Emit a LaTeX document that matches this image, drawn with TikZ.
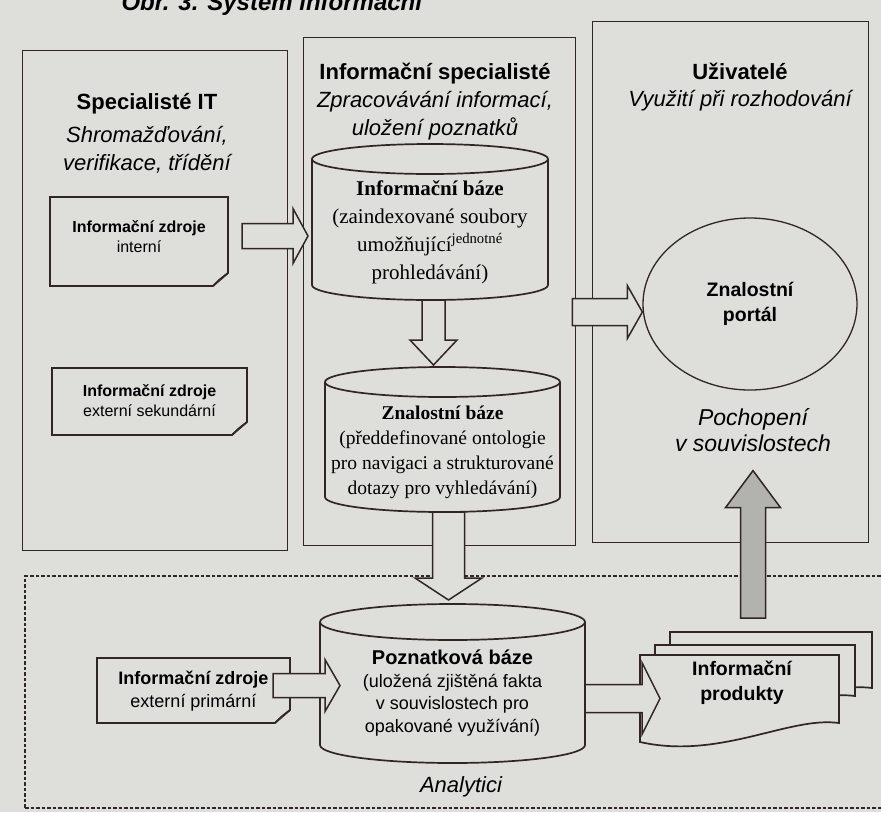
\documentclass[tikz,border=0pt]{standalone}
\usepackage{fontspec}
\setmainfont{Liberation Serif}
\setsansfont{Liberation Sans}
\usetikzlibrary{shapes.geometric, calc, positioning}
\definecolor{paper}{RGB}{222,222,219}
\definecolor{ink}{RGB}{48,38,38}
\definecolor{stipple}{RGB}{178,178,175}

\tikzset{
  colbox/.style={draw=ink, line width=0.9pt, inner sep=0pt},
  body/.style={inner sep=0pt, outer sep=0pt},
  shapeline/.style={draw=ink, line width=1.7pt, fill=paper, line join=miter},
  blockarrow/.style={draw=ink, line width=1.5pt, fill=paper, line join=miter},
  dashframe/.style={draw=ink, line width=1.6pt, dash pattern=on 3.5pt off 2pt, inner sep=0pt},
  headbold/.style={font=\sffamily\bfseries\fontsize{22}{28}\selectfont},
  headital/.style={font=\sffamily\itshape\fontsize{22}{28}\selectfont, align=center},
  notetext/.style={font=\sffamily\fontsize{16}{20}\selectfont, align=center},
  serifbig/.style={font=\fontsize{21}{28}\selectfont, align=center},
  serifmid/.style={font=\fontsize{19.5}{25}\selectfont, align=center},
  sanstext/.style={font=\sffamily\fontsize{18}{22.5}\selectfont, align=center},
  sansbold/.style={font=\sffamily\bfseries\fontsize{19.5}{25}\selectfont, align=center},
  sansital/.style={font=\sffamily\itshape\fontsize{23}{26}\selectfont, align=center}
}

% outlines drawn round empty body nodes
\newcommand{\cylinderoutline}[3]{%
  \draw[shapeline] (#1.north west) -- (#1.south west)
    arc[start angle=180, end angle=360, x radius=#2pt, y radius=#3pt]
    -- (#1.north east)
    arc[start angle=0, end angle=180, x radius=#2pt, y radius=#3pt] -- cycle;
  \draw[shapeline, fill=none] (#1.north west)
    arc[start angle=180, end angle=360, x radius=#2pt, y radius=#3pt];}
\newcommand{\noteoutline}[1]{%
  \draw[shapeline] (#1.north west) -- (#1.north east) -- ([yshift=13pt]#1.south east)
    -- ([xshift=-15pt]#1.south east) -- (#1.south west) -- cycle;
  \draw[shapeline, fill=ink!30, line join=round] ([yshift=13pt]#1.south east)
    -- ([shift={(-9pt,6pt)}]#1.south east) -- ([xshift=-15pt]#1.south east);}
\newcommand{\docoutline}[1]{%
  \draw[shapeline] (#1.north west) -- (#1.north east) -- ([yshift=19pt]#1.south east)
    .. controls ([shift={(-50pt,26pt)}]#1.south east) and ([shift={(80pt,-18pt)}]#1.south west)
    .. (#1.south west) -- cycle;}
% block arrows: from, tip, shaft half, head half, head length
\newcommand{\rightblock}[6][]{%
  \draw[blockarrow,#1] let \p1=(#2), \p2=(#3) in
    (\x1,\y2+#4) -- (\x2-#6,\y2+#4) -- (\x2-#6,\y2+#5) -- (\x2,\y2)
    -- (\x2-#6,\y2-#5) -- (\x2-#6,\y2-#4) -- (\x1,\y2-#4) -- cycle;}
\newcommand{\downblock}[6][]{%
  \draw[blockarrow,#1] let \p1=(#2), \p2=(#3) in
    (\x2-#4,\y1) -- (\x2-#4,\y2+#6) -- (\x2-#5,\y2+#6) -- (\x2,\y2)
    -- (\x2+#5,\y2+#6) -- (\x2+#4,\y2+#6) -- (\x2+#4,\y1) -- cycle;}
\newcommand{\upblock}[6][]{%
  \draw[blockarrow,#1] let \p1=(#2), \p2=(#3) in
    (\x2-#4,\y1) -- (\x2-#4,\y2-#6) -- (\x2-#5,\y2-#6) -- (\x2,\y2)
    -- (\x2+#5,\y2-#6) -- (\x2+#4,\y2-#6) -- (\x2+#4,\y1) -- cycle;}

\begin{document}
\begin{tikzpicture}[x=1pt, y=-1pt]
  \fill[paper] (0,0) rectangle (881,812);
  \useasboundingbox (0,0) rectangle (881,812);

  \node[font=\sffamily\bfseries\itshape\fontsize{24}{26}\selectfont, anchor=base west]
    (figtitle) at (118,10) {Obr. 3. Systém informační};

  % column boxes
  \node[colbox, minimum width=265, minimum height=500] (leftcol) at (154.5,300) {};
  \node[colbox, minimum width=272, minimum height=508] (midcol) at (439,291) {};
  \node[colbox, minimum width=276, minimum height=521] (rightcol) at (730,281.5) {};
  \node[dashframe, minimum width=870, minimum height=232] (anaframe) at (460,692) {};

  % column headers
  \node[headbold] (ithead) at (147,104) {Specialisté IT};
  \node[headital] (ittask) at (147,149.5) {Shromažďování,\\verifikace, třídění};
  \node[headbold] (infohead) at (435,74) {Informační specialisté};
  \node[headital] (infotask) at (435,116) {Zpracovávání informací,\\uložení poznatků};
  \node[headbold] (userhead) at (740,71) {Uživatelé};
  \node[headital] (usertask) at (740,101) {Využití při rozhodování};

  % Informacni baze
  \node[body, minimum width=236, minimum height=126] (infobaze) at (430,222) {};
  \cylinderoutline{infobaze}{118}{15}
  \node[serifbig] (infobazetext) at (430,232) {\textbf{Informační báze}\\(zaindexované soubory\\
    umožňující\textsuperscript{jednotné}\\prohledávání)};

  % Znalostni baze
  \node[body, minimum width=235, minimum height=115] (znalbaze) at (442.5,439.5) {};
  \cylinderoutline{znalbaze}{117.5}{15}
  \node[serifmid] (znalbazetext) at (442.5,452.5) {\textbf{Znalostní báze}\\(předdefinované ontologie\\
    pro navigaci a strukturované\\dotazy pro vyhledávání)};

  % Poznatkova baze
  \node[body, minimum width=265, minimum height=123] (poznbaze) at (452.5,683.5) {};
  \cylinderoutline{poznbaze}{132.5}{18}
  \node[sanstext] (poznbazetext) at (452.5,693) {{\bfseries\fontsize{20}{25}\selectfont Poznatková báze}\\
    (uložená zjištěná fakta\\v souvislostech pro\\opakované využívání)};

  % information sources
  \node[body, minimum width=178, minimum height=89] (notein) at (139,241.5) {};
  \noteoutline{notein}
  \node[notetext] (noteintext) at (139,237) {\textbf{Informační zdroje}\\interní};
  \node[body, minimum width=195, minimum height=67] (notesec) at (149.5,401.5) {};
  \noteoutline{notesec}
  \node[notetext] (notesectext) at (149.5,401) {\textbf{Informační zdroje}\\externí sekundární};
  \node[body, minimum width=193, minimum height=65] (noteprim) at (193.5,690.5) {};
  \noteoutline{noteprim}
  \node[notetext, font=\sffamily\fontsize{18}{23}\selectfont] (noteprimtext) at (193.5,691.5)
    {\textbf{Informační zdroje}\\externí primární};

  % information products
  \node[body, minimum width=202, minimum height=75] (prodback1) at (771,669.5) {};
  \docoutline{prodback1}
  \node[body, minimum width=200, minimum height=70] (prodback2) at (755,680) {};
  \docoutline{prodback2}
  \node[body, minimum width=199, minimum height=87] (prodfront) at (739.5,698.5) {};
  \docoutline{prodfront}
  \node[sansbold] (prodtext) at (742,682.5) {Informační\\produkty};

  % portal
  \node[draw=ink, line width=1.3pt, ellipse, minimum width=214, minimum height=172,
    sansbold] (portal) at (750,304) {Znalostní\\portál};
  \node[sansital] (pochtext) at (753,430.5) {Pochopení\\v souvislostech};
  \node[sansital, font=\sffamily\itshape\fontsize{22}{26}\selectfont] (analabel) at (461,787) {Analytici};

  % block arrows
  \rightblock{[xshift=14pt]notein.east}{[shift={(-4pt,-14pt)}]infobaze.west}{12.5pt}{27.5pt}{15pt}
  \downblock{[yshift=-15pt]infobaze.south}{[shift={(-9pt,17pt)}]znalbaze.north}{11.5pt}{23.5pt}{25pt}
  \downblock{[yshift=-15pt]znalbaze.south}{[shift={(-4pt,22pt)}]poznbaze.north}{16pt}{33.5pt}{22pt}
  \rightblock{[xshift=-3pt]midcol.east}{[yshift=-8pt]portal.west}{13.5pt}{26.5pt}{15pt}
  \rightblock{[xshift=-17pt]noteprim.east}{[shift={(20pt,-2pt)}]poznbaze.west}{12pt}{26pt}{15pt}
  \rightblock{[yshift=-15pt]poznbaze.east}{[xshift=20pt]prodfront.west}{14pt}{36pt}{18pt}
  \upblock[fill=stipple]{[shift={(-16pt,14pt)}]prodback1.north}{[yshift=-15pt]pochtext.south}{12.5pt}{27.5pt}{37pt}
\end{tikzpicture}
\end{document}
